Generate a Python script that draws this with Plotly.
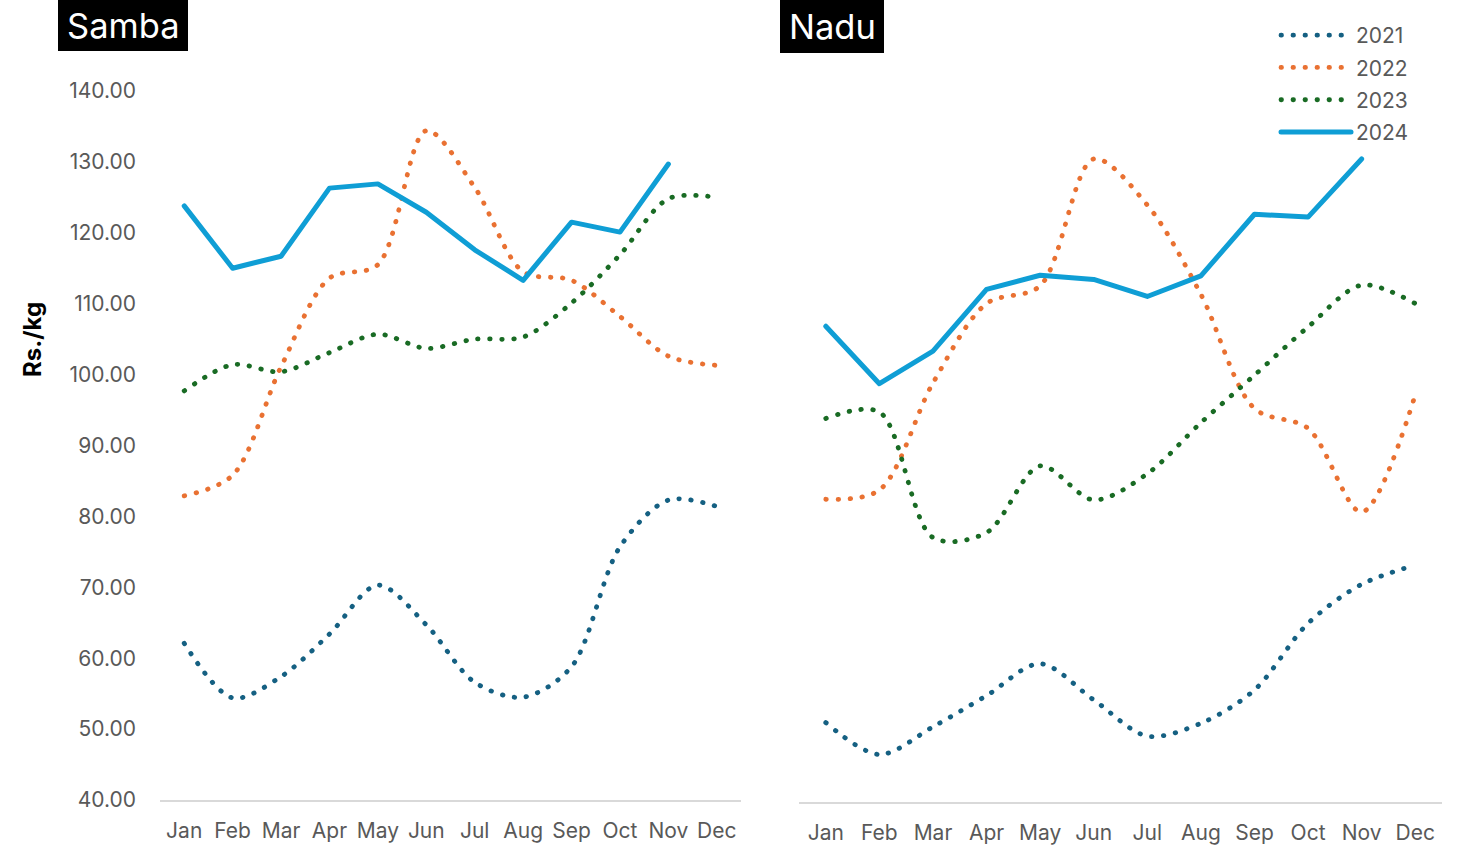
import plotly.graph_objects as go

months = ["Jan", "Feb", "Mar", "Apr", "May", "Jun", "Jul", "Aug", "Sep", "Oct", "Nov", "Dec"]
years = ["2021", "2022", "2023", "2024"]

samba_2021 = [62.1, 54.4, 57.4, 63.4, 70.3, 64.7, 56.6, 54.5, 58.8, 75.7, 82.3, 81.4]
samba_2022 = [82.9, 85.8, 101.1, 113.6, 115.5, 134.4, 126.4, 114.5, 113.3, 108.2, 102.6, 101.3]
samba_2023 = [97.7, 101.4, 100.4, 103.1, 105.7, 103.7, 105.0, 105.3, 110.1, 116.9, 124.8, 125.0]
samba_2024 = [123.8, 115.0, 116.7, 126.3, 126.9, 122.9, 117.6, 113.3, 121.5, 120.1, 129.7, None]

nadu_2021 = [51.2, 46.7, 50.6, 55.0, 59.5, 54.4, 49.3, 51.1, 55.8, 65.2, 70.7, 73.4]
nadu_2022 = [82.7, 84.0, 99.1, 110.3, 112.8, 130.7, 124.2, 111.6, 95.5, 92.7, 80.9, 97.4]
nadu_2023 = [94.1, 95.0, 77.3, 78.0, 87.4, 82.6, 86.3, 93.5, 100.2, 107.0, 112.9, 110.3]
nadu_2024 = [107.1, 99.0, 103.6, 112.3, 114.3, 113.7, 111.3, 114.2, 122.9, 122.5, 130.7, None]

colors = {"2021": "#156082", "2022": "#E97132", "2023": "#196B24", "2024": "#0F9ED5"}

samba = {"2021": samba_2021, "2022": samba_2022, "2023": samba_2023, "2024": samba_2024}
nadu = {"2021": nadu_2021, "2022": nadu_2022, "2023": nadu_2023, "2024": nadu_2024}

FONT = "Inter"
GREY = "#595959"
TICK = 21

fig = go.Figure()

for idx, (data, xa, ya) in enumerate([(samba, "x", "y"), (nadu, "x2", "y2")]):
    for yr in years:
        solid = yr == "2024"
        fig.add_trace(go.Scatter(
            x=months, y=data[yr], xaxis=xa, yaxis=ya, name=yr,
            mode="lines", legendgroup=yr, showlegend=(idx == 1),
            line=dict(color=colors[yr], width=5 if solid else 4.8,
                      dash="solid" if solid else "0.5px,11.5px",
                      shape="linear" if solid else "spline", smoothing=0.9),
            connectgaps=False,
        ))

W, H = 1460, 845
def px_x(p): return p / W
def px_y(p): return 1 - p / H

axis_common = dict(showgrid=False, zeroline=False, automargin=False)
fig.update_layout(
    width=W, height=H, margin=dict(l=0, r=0, t=0, b=0, autoexpand=False),
    paper_bgcolor="white", plot_bgcolor="white",
    font=dict(family=FONT, size=TICK, color=GREY),
    xaxis=dict(domain=[px_x(160), px_x(741)], anchor="y", type="category",
               range=[-0.5, 11.5], showline=True, linecolor="#D9D9D9", linewidth=2,
               ticks="", ticklabelstandoff=11, tickfont=dict(size=TICK), **axis_common),
    yaxis=dict(domain=[px_y(800), px_y(91)], anchor="x", range=[40, 140], dtick=10,
               tickformat=".2f", showline=False, ticks="", ticklabelstandoff=23,
               tickfont=dict(size=TICK), **axis_common),
    xaxis2=dict(domain=[px_x(799), px_x(1442)], anchor="y2", type="category",
                range=[-0.5, 11.5], showline=True, linecolor="#D9D9D9", linewidth=2,
                ticks="", ticklabelstandoff=11, tickfont=dict(size=TICK), **axis_common),
    yaxis2=dict(domain=[px_y(802), px_y(93)], anchor="x2", range=[40, 140],
                showticklabels=False, showline=False, ticks="", **axis_common),
    legend=dict(x=px_x(1276), y=px_y(15), xanchor="left", yanchor="top",
                traceorder="grouped", tracegroupgap=2, itemwidth=70,
                font=dict(family=FONT, size=TICK, color=GREY), bgcolor="rgba(0,0,0,0)"),
    shapes=[
        dict(type="rect", xref="paper", yref="paper", x0=px_x(58), x1=px_x(188),
             y0=px_y(51), y1=px_y(0), fillcolor="black", line=dict(width=0), layer="above"),
        dict(type="rect", xref="paper", yref="paper", x0=px_x(780), x1=px_x(884),
             y0=px_y(53), y1=px_y(0), fillcolor="black", line=dict(width=0), layer="above"),
    ],
    annotations=[
        dict(text="Samba", xref="paper", yref="paper", x=px_x(123), y=px_y(25),
             xanchor="center", yanchor="middle", showarrow=False,
             font=dict(family=FONT, size=34.5, color="white")),
        dict(text="Nadu", xref="paper", yref="paper", x=px_x(832), y=px_y(27),
             xanchor="center", yanchor="middle", showarrow=False,
             font=dict(family=FONT, size=34.5, color="white")),
        dict(text="<b>Rs./kg</b>", xref="paper", yref="paper", x=px_x(32), y=px_y(340),
             xanchor="center", yanchor="middle", showarrow=False, textangle=-90,
             font=dict(family=FONT, size=24, color="black")),
    ],
)

post = ("var s=document.createElement('style');"
        "s.innerHTML='body{margin:0;overflow:hidden} .js-line{stroke-linecap:round !important;stroke-linejoin:round !important}';"
        "document.head.appendChild(s);")
fig.write_html("out.html", post_script=post, config={"displayModeBar": False})
